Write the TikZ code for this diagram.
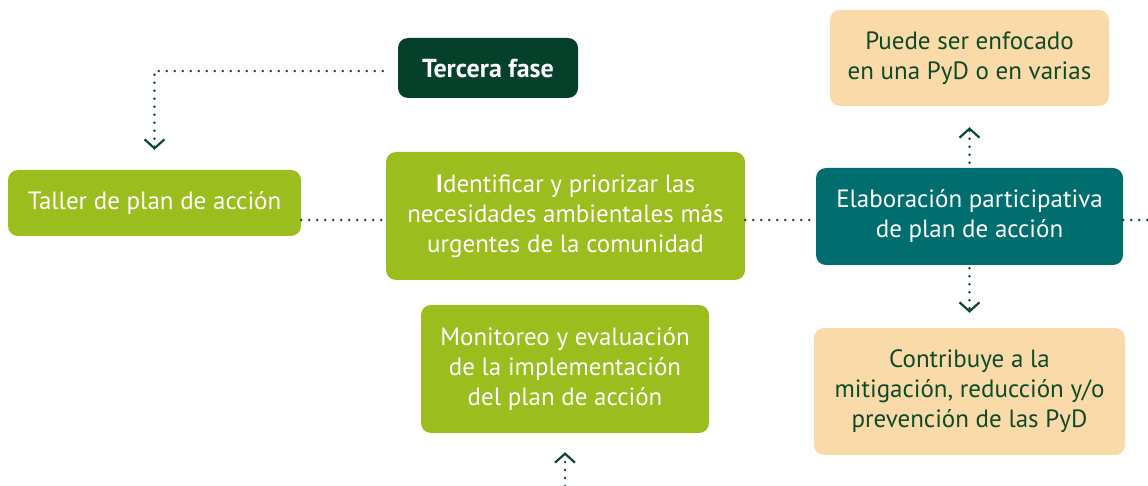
\documentclass[tikz,border=0pt]{standalone}
\usepackage{fontspec}
\setmainfont{PT Sans}
\usetikzlibrary{arrows.meta}
\definecolor{lime}{HTML}{9BBD1E}
\definecolor{darkg}{HTML}{05412A}
\definecolor{tealb}{HTML}{006E6E}
\definecolor{peach}{HTML}{FADAA8}
\definecolor{lineg}{HTML}{0B4A2C}
\definecolor{peachtxt}{HTML}{0F4A28}
\tikzset{
  box/.style={rounded corners=10pt, align=center, inner sep=0pt,
    font=\fontsize{25}{30}\selectfont},
  limebox/.style={box, fill=lime, text=white},
  darkbox/.style={box, fill=darkg, text=white, font=\fontsize{26}{30}\selectfont\bfseries},
  tealbox/.style={box, fill=tealb, text=white},
  peachbox/.style={box, fill=peach, text=peachtxt},
  conn/.style={draw=lineg, line width=2.7pt, line cap=round, dash pattern=on 0pt off 8pt},
  arr/.style={conn, -{Straight Barb[length=9pt, width=20pt, line width=2.2pt]}},
}
\begin{document}
\begin{tikzpicture}[x=1pt, y=-1pt]
\useasboundingbox (0,0) rectangle (1148,486);
\node[darkbox, minimum width=180pt, minimum height=60pt] (tercera) at (488,68) {Tercera fase};
\node[limebox, minimum width=293pt, minimum height=66pt] (taller) at (154.5,203) {Taller de plan de acción};
\node[limebox, minimum width=359pt, minimum height=128pt] (ident) at (565.5,216) {\textbf{I}dentificar y priorizar las\\necesidades ambientales más\\urgentes de la comunidad};
\node[tealbox, minimum width=307pt, minimum height=97pt] (elab) at (969.5,216.5) {Elaboración participativa\\de plan de acción};
\node[peachbox, minimum width=279pt, minimum height=96pt] (puede) at (969.5,58) {Puede ser enfocado\\en una PyD o en varias};
\node[peachbox, minimum width=311pt, minimum height=127pt] (contrib) at (969.5,391.5) {Contribuye a la\\mitigación, reducción y/o\\prevención de las PyD};
\node[limebox, minimum width=288pt, minimum height=128pt] (monit) at (565,369) {Monitoreo y evaluación\\de la implementación\\del plan de acción};
\coordinate (row) at (0,220);
\coordinate (rightend) at (1148,220);
\coordinate (bottomend) at (565,486);
\draw[arr, shorten <=15pt, shorten >=20pt] ([yshift=-3pt]tercera.west) -| (taller.north);
\draw[conn] (taller.east |- row) -- (ident.west |- row);
\draw[conn] (ident.east |- row) -- (elab.west |- row);
\draw[conn] (elab.east |- row) -- (rightend);
\draw[arr, shorten <=5pt, shorten >=21pt] (elab.north) -- (puede.south);
\draw[arr, shorten <=3pt, shorten >=15pt] (elab.south) -- (contrib.north);
\draw[arr, shorten >=19pt] (bottomend) -- (monit.south);
\end{tikzpicture}
\end{document}
